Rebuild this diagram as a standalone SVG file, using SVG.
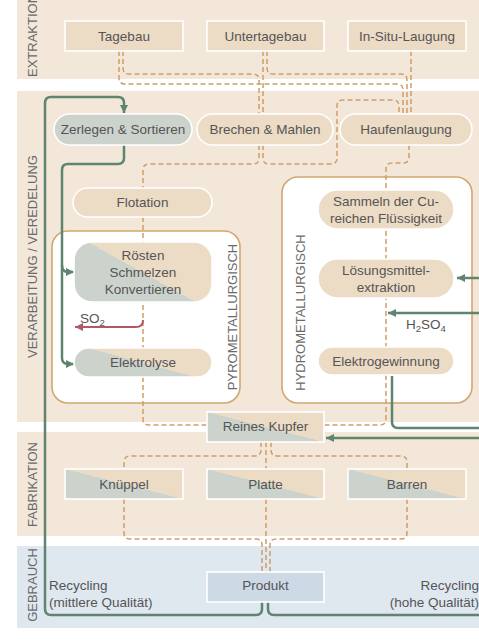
<svg xmlns="http://www.w3.org/2000/svg" width="479" height="641" viewBox="0 0 479 641">
<style>
.band{fill:#f3e7da}
.bandb{fill:#dfe7ef}
.bl{font-family:"Liberation Sans",Arial,sans-serif;font-size:13px;fill:#6a6a6a;text-anchor:middle}
.t{font-family:"Liberation Sans",Arial,sans-serif;font-size:13.5px;fill:#555;text-anchor:middle}
.ts{font-family:"Liberation Sans",Arial,sans-serif;font-size:13.5px;fill:#555}
.n{stroke:#fff;stroke-width:1.6}
.be{fill:#ecdbc5}
.gr{fill:#cbd3cc}
.bu{fill:#cddae6}
.sp{fill:url(#split)}
.spp{fill:url(#splitp)}
.box{fill:#fff;stroke:#d4a66f;stroke-width:1.6}
.d{fill:none;stroke:#cf9f68;stroke-width:1.5;stroke-dasharray:5 3}
.g{fill:none;stroke:#5f8571;stroke-width:2.5}
.r{fill:none;stroke:#b05a67;stroke-width:2}
</style>
<defs>
<linearGradient id="split" x1="0" y1="1" x2="1" y2="0">
<stop offset="0" stop-color="#cbd3cc"/><stop offset="0.5" stop-color="#cbd3cc"/><stop offset="0.5" stop-color="#ecdbc5"/><stop offset="1" stop-color="#ecdbc5"/>
</linearGradient>
<linearGradient id="splitp" x1="-0.01" y1="0.89" x2="0.99" y2="0.11">
<stop offset="0" stop-color="#cbd3cc"/><stop offset="0.5" stop-color="#cbd3cc"/><stop offset="0.5" stop-color="#ecdbc5"/><stop offset="1" stop-color="#ecdbc5"/>
</linearGradient>
<marker id="ag" markerUnits="userSpaceOnUse" markerWidth="9" markerHeight="9" refX="8" refY="4" orient="auto" viewBox="0 0 9 8">
<path d="M0,0 L8,4 L0,8 z" fill="#5f8571"/>
</marker>
<marker id="ar" markerUnits="userSpaceOnUse" markerWidth="9" markerHeight="9" refX="8" refY="4" orient="auto" viewBox="0 0 9 8">
<path d="M0,0 L8,4 L0,8 z" fill="#b05a67"/>
</marker>
</defs>

<g id="bands">
<rect class="band" x="17" y="0" width="462" height="79"/>
<rect class="band" x="17" y="91" width="462" height="331"/>
<rect class="band" x="17" y="432" width="462" height="104"/>
<rect class="bandb" x="17" y="546" width="462" height="82"/>
<text class="bl" transform="translate(37,35.5) rotate(-90)">EXTRAKTION</text>
<text class="bl" transform="translate(37,256.5) rotate(-90)">VERARBEITUNG / VEREDELUNG</text>
<text class="bl" transform="translate(37,484.5) rotate(-90)">FABRIKATION</text>
<text class="bl" transform="translate(37,585) rotate(-90)">GEBRAUCH</text>
</g>

<g id="pyro-container">
<rect class="box" x="52" y="231" width="188" height="172" rx="16"/>
<text class="bl" transform="translate(237,317) rotate(-90)">PYROMETALLURGISCH</text>
</g>
<g id="hydro-container">
<rect class="box" x="282" y="177" width="190" height="226" rx="16"/>
<text class="bl" transform="translate(305,312.5) rotate(-90)">HYDROMETALLURGISCH</text>
</g>

<g id="connectors">
<path class="d" d="M123,51 V68 Q123,74 129,74 H253 Q259,74 259,80 V114"/>
<path class="d" d="M119,51 V78 Q119,84 125,84 H397 Q403,84 403,90 V114"/>
<path class="d" d="M263,51 V114"/>
<path class="d" d="M267,51 V68 Q267,74 273,74 H401 Q407,74 407,80 V114"/>
<path class="d" d="M411,51 V114"/>
<path class="d" d="M259,145 V158 Q259,164 253,164 H149 Q143,164 143,170 V188"/>
<path class="d" d="M263,145 V158 Q263,164 269,164 H331 Q337,164 337,158 V106 Q337,100 343,100 H393 Q399,100 399,106 V114"/>
<path class="d" d="M409,145 V157 Q409,163 403,163 H392 Q386,163 386,169 V419 Q386,425 380,425 H324"/>
<path class="d" d="M143,217 V419 Q143,425 149,425 H207"/>
<path class="d" d="M261,442 V450 Q261,456 255,456 H130 Q124,456 124,462 V469"/>
<path class="d" d="M266,442 V469"/>
<path class="d" d="M271,442 V450 Q271,456 277,456 H401 Q407,456 407,462 V469"/>
<path class="d" d="M124,499 V533 Q124,539 130,539 H256 Q262,539 262,545 V572"/>
<path class="d" d="M266,499 V572"/>
<path class="d" d="M407,499 V533 Q407,539 401,539 H276 Q270,539 270,545 V572"/>
<path class="r" d="M143,320 Q143,327 136,327 H75" marker-end="url(#ar)"/>
<path class="g" d="M262,602 V609 Q262,615 256,615 H51 Q45,615 45,609 V103 Q45,97 51,97 H118 Q124,97 124,103 V113" marker-end="url(#ag)"/>
<path class="g" d="M268,602 V609 Q268,615 274,615 H479"/>
<path class="g" d="M124,145 V158 Q124,164 118,164 H68 Q62,164 62,170 V358 Q62,364 68,364 H74" marker-end="url(#ag)"/>
<path class="g" d="M62,265 Q62,272 68,272 H74" marker-end="url(#ag)"/>
<path class="g" d="M479,278 H457" marker-end="url(#ag)"/>
<path class="g" d="M479,313 H388" marker-end="url(#ag)"/>
<path class="g" d="M392,376 V422 Q392,428 398,428 H479"/>
<path class="g" d="M479,438 H326" marker-end="url(#ag)"/>
</g>

<g id="tagebau"><rect class="n be" x="65" y="21" width="118" height="30"/><text class="t" x="124" y="40.5">Tagebau</text></g>
<g id="untertagebau"><rect class="n be" x="207" y="21" width="117" height="30"/><text class="t" x="265.5" y="40.5">Untertagebau</text></g>
<g id="insitu"><rect class="n be" x="348" y="21" width="118" height="30"/><text class="t" x="407" y="40.5">In-Situ-Laugung</text></g>

<g id="zerlegen"><rect class="n gr" x="54" y="114" width="138" height="31" rx="15.5"/><text class="t" x="123" y="134">Zerlegen &amp; Sortieren</text></g>
<g id="brechen"><rect class="n be" x="197" y="114" width="136" height="31" rx="15.5"/><text class="t" x="265" y="134">Brechen &amp; Mahlen</text></g>
<g id="haufen"><rect class="n be" x="340" y="114" width="132" height="31" rx="15.5"/><text class="t" x="406" y="134">Haufenlaugung</text></g>

<g id="flotation"><rect class="n be" x="73" y="188" width="139" height="29" rx="14.5"/><text class="t" x="142.5" y="207">Flotation</text></g>

<g id="roesten"><rect class="n spp" x="74" y="242" width="138" height="60" rx="18"/>
<text class="t" x="143" y="260">Rösten</text><text class="t" x="143" y="277">Schmelzen</text><text class="t" x="143" y="294">Konvertieren</text></g>
<g id="so2"><text class="ts" x="80" y="323">SO<tspan font-size="9.5" dy="3">2</tspan></text></g>
<g id="elektrolyse"><rect class="n spp" x="74" y="348" width="138" height="29" rx="14.5"/><text class="t" x="143" y="367">Elektrolyse</text></g>

<g id="sammeln"><rect class="n be" x="318" y="190" width="136" height="39" rx="19.5"/>
<text class="t" x="386" y="206">Sammeln der Cu-</text><text class="t" x="386" y="223">reichen Flüssigkeit</text></g>
<g id="loesung"><rect class="n be" x="318" y="259" width="136" height="39" rx="19.5"/>
<text class="t" x="386" y="275">Lösungsmittel-</text><text class="t" x="386" y="292">extraktion</text></g>
<g id="h2so4"><text class="ts" x="406" y="329">H<tspan font-size="9.5" dy="3">2</tspan><tspan dy="-3">SO</tspan><tspan font-size="9.5" dy="3">4</tspan></text></g>
<g id="elektrogewinnung"><rect class="n be" x="318" y="347" width="136" height="28" rx="14"/><text class="t" x="386" y="366">Elektrogewinnung</text></g>

<g id="reineskupfer"><rect class="n sp" x="207" y="412" width="117" height="30"/><text class="t" x="265.5" y="431">Reines Kupfer</text></g>

<g id="knueppel"><rect class="n sp" x="65" y="469" width="118" height="30"/><text class="t" x="124" y="488.5">Knüppel</text></g>
<g id="platte"><rect class="n sp" x="207" y="469" width="117" height="30"/><text class="t" x="265.5" y="488.5">Platte</text></g>
<g id="barren"><rect class="n sp" x="348" y="469" width="118" height="30"/><text class="t" x="407" y="488.5">Barren</text></g>

<g id="produkt"><rect class="n bu" x="207" y="572" width="117" height="30"/><text class="t" x="265.5" y="590">Produkt</text></g>

<g id="recycling-labels">
<text class="ts" x="49" y="590">Recycling</text>
<text class="ts" x="49" y="607">(mittlere Qualität)</text>
<text class="ts" x="479" y="590" text-anchor="end">Recycling</text>
<text class="ts" x="479" y="607" text-anchor="end">(hohe Qualität)</text>
</g>
</svg>
